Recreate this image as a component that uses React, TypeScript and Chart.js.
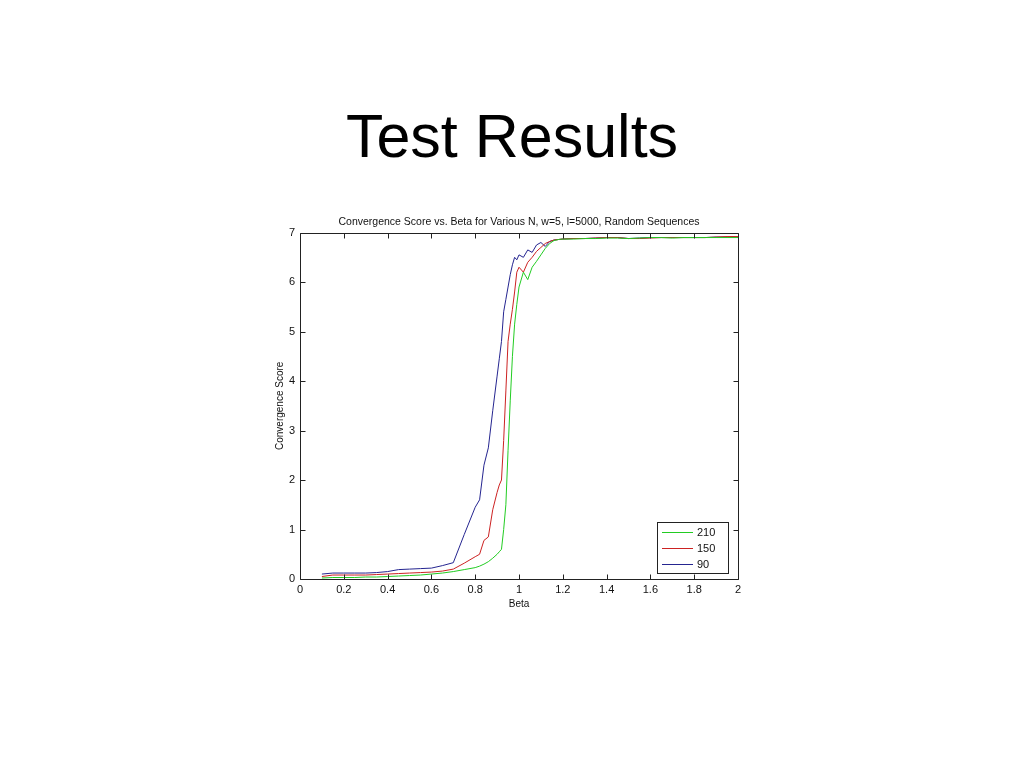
import React, { useEffect, useRef } from "react";
import { Chart, registerables } from "chart.js";

Chart.register(...registerables);

const pageTitle = "Test Results";
const chartTitle = "Convergence Score vs. Beta for Various N, w=5, l=5000, Random Sequences";
const xAxisTitle = "Beta";
const yAxisTitle = "Convergence Score";

const betas = [
  0.1, 0.15, 0.2, 0.25, 0.3, 0.35, 0.4, 0.45, 0.5, 0.55, 0.6, 0.65, 0.7, 0.75, 0.8,
  0.82, 0.84, 0.86, 0.88, 0.9,
  0.91, 0.92, 0.93, 0.94, 0.95, 0.96, 0.97, 0.98, 0.99, 1.0,
  1.02, 1.04, 1.06, 1.08, 1.1, 1.12, 1.14, 1.16, 1.18, 1.2,
  1.25, 1.3, 1.35, 1.4, 1.45, 1.5, 1.55, 1.6, 1.65, 1.7, 1.75, 1.8, 1.85, 1.9, 1.95, 2.0,
];

const n210 = [
  0.02, 0.03, 0.03, 0.03, 0.04, 0.04, 0.05, 0.06, 0.07, 0.08, 0.1, 0.12, 0.15, 0.19, 0.23,
  0.26, 0.3, 0.35, 0.42, 0.5,
  0.55, 0.6, 1.0, 1.5, 2.6, 3.6, 4.5, 5.15, 5.55, 5.9,
  6.2, 6.05, 6.3, 6.42, 6.55, 6.68, 6.78, 6.84, 6.86, 6.87,
  6.87, 6.88, 6.88, 6.89, 6.89, 6.88, 6.89, 6.9, 6.9, 6.89, 6.9, 6.9, 6.9, 6.9, 6.9, 6.9,
];

const n150 = [
  0.05, 0.08, 0.08, 0.08, 0.08, 0.09, 0.1, 0.11, 0.12, 0.13, 0.14, 0.16, 0.2, 0.32, 0.45,
  0.5, 0.78, 0.85, 1.4, 1.75,
  1.9, 2.0, 2.8, 3.8, 4.8, 5.15, 5.45, 5.8, 6.2, 6.3,
  6.2, 6.4, 6.5, 6.62, 6.7, 6.78, 6.82, 6.85, 6.86, 6.87,
  6.88, 6.88, 6.89, 6.9, 6.9, 6.88, 6.88, 6.89, 6.9, 6.9, 6.9, 6.9, 6.9, 6.91, 6.92, 6.92,
];

const n90 = [
  0.1, 0.12, 0.12, 0.12, 0.12, 0.13, 0.15, 0.19, 0.2, 0.21, 0.22, 0.27, 0.33, 0.9, 1.45,
  1.6, 2.3, 2.65, 3.4, 4.1,
  4.45, 4.8, 5.4, 5.65, 5.9, 6.15, 6.35, 6.5, 6.45, 6.55,
  6.5, 6.65, 6.6, 6.75, 6.8, 6.72, 6.82, 6.85, 6.86, 6.87,
  6.88, 6.88, 6.89, 6.9, 6.9, 6.88, 6.89, 6.9, 6.9, 6.9, 6.9, 6.9, 6.9, 6.91, 6.91, 6.91,
];

const seriesLabels = ["210", "150", "90"];
const seriesColors = ["#22cc22", "#cc2222", "#252590"];

const FONT = '"Liberation Sans", Arial, sans-serif';

const axesBoxPlugin = {
  id: "axesBox",
  afterDatasetsDraw(chart: any) {
    const { ctx, chartArea } = chart;
    const { left, right, top, bottom } = chartArea;
    const xs = chart.scales.x;
    const ys = chart.scales.y;
    ctx.save();
    ctx.strokeStyle = "#222";
    ctx.lineWidth = 1;
    ctx.beginPath();
    const L = Math.round(left) + 0.5;
    const R = Math.round(right) + 0.5;
    const T = Math.round(top) + 0.5;
    const B = Math.round(bottom) + 0.5;
    ctx.rect(L, T, R - L, B - T);
    xs.ticks.forEach((t: any) => {
      const px = Math.round(xs.getPixelForValue(t.value)) + 0.5;
      ctx.moveTo(px, B);
      ctx.lineTo(px, B - 5);
      ctx.moveTo(px, T);
      ctx.lineTo(px, T + 5);
    });
    ys.ticks.forEach((t: any) => {
      const py = Math.round(ys.getPixelForValue(t.value)) + 0.5;
      ctx.moveTo(L, py);
      ctx.lineTo(L + 5, py);
      ctx.moveTo(R, py);
      ctx.lineTo(R - 5, py);
    });
    ctx.stroke();
    ctx.restore();
  },
};

const boxLegendPlugin = {
  id: "boxLegend",
  afterDraw(chart: any) {
    const { ctx, chartArea } = chart;
    const w = 71;
    const h = 51;
    const x0 = Math.round(chartArea.right) - 10 - w;
    const y0 = Math.round(chartArea.bottom) - 6 - h;
    ctx.save();
    ctx.fillStyle = "#fff";
    ctx.fillRect(x0, y0, w, h);
    ctx.strokeStyle = "#222";
    ctx.lineWidth = 1;
    ctx.strokeRect(x0 + 0.5, y0 + 0.5, w, h);
    chart.data.datasets.forEach((ds: any, i: number) => {
      const y = y0 + 10 + i * 16;
      ctx.save();
      ctx.strokeStyle = seriesColors[i];
      ctx.lineWidth = 1;
      ctx.beginPath();
      ctx.moveTo(x0 + 5, y + 0.5);
      ctx.lineTo(x0 + 36, y + 0.5);
      ctx.stroke();
      ctx.restore();
      ctx.fillStyle = "#111";
      ctx.font = `11px ${FONT}`;
      ctx.textBaseline = "middle";
      ctx.textAlign = "left";
      ctx.fillText(ds.label, x0 + 40, y + 1);
    });
    ctx.restore();
  },
};

export default function App() {
  const canvasRef = useRef<HTMLCanvasElement | null>(null);

  useEffect(() => {
    const canvas = canvasRef.current;
    if (!canvas) return;
    const series = [n210, n150, n90];
    const chart = new Chart(canvas, {
      type: "line",
      data: {
        datasets: series.map((vals, i) => ({
          label: seriesLabels[i],
          data: betas.map((b, j) => ({ x: b, y: vals[j] })),
          borderColor: seriesColors[i],
          backgroundColor: seriesColors[i],
          borderWidth: 1,
          pointRadius: 0,
          tension: 0,
          fill: false,
        })),
      },
      options: {
        responsive: false,
        animation: false,
        devicePixelRatio: 1,
        layout: { padding: { left: 270, right: 286, top: 214, bottom: 154 } },
        plugins: {
          legend: { display: false },
          tooltip: { enabled: false },
          title: {
            display: true,
            text: chartTitle,
            fullSize: false,
            color: "#111",
            font: { family: FONT, size: 10.5, weight: "normal" },
            padding: { top: 2, bottom: 4 },
          },
        },
        scales: {
          x: {
            type: "linear",
            min: 0,
            max: 2,
            grid: { display: false, drawTicks: false },
            border: { display: false },
            ticks: {
              stepSize: 0.2,
              color: "#111",
              padding: 4,
              maxRotation: 0,
              font: { family: FONT, size: 11 },
              callback: (v: any) => String(Number(Number(v).toFixed(1))),
            },
            title: {
              display: true,
              text: xAxisTitle,
              color: "#111",
              font: { family: FONT, size: 10 },
              padding: { top: 4, bottom: 4 },
            },
            afterFit(scale: any) {
              scale.height = 35;
            },
          },
          y: {
            type: "linear",
            min: 0,
            max: 7,
            grid: { display: false, drawTicks: false },
            border: { display: false },
            ticks: {
              stepSize: 1,
              color: "#111",
              padding: 5,
              font: { family: FONT, size: 11 },
            },
            title: {
              display: true,
              text: yAxisTitle,
              color: "#111",
              font: { family: FONT, size: 10 },
              padding: { top: 4, bottom: 4 },
            },
            afterFit(scale: any) {
              scale.width = 30;
            },
          },
        },
      },
      plugins: [axesBoxPlugin, boxLegendPlugin],
    } as any);
    return () => chart.destroy();
  }, []);

  return (
    <div
      style={{
        position: "absolute",
        left: 0,
        top: 0,
        width: 1024,
        height: 768,
        background: "#fff",
        overflow: "hidden",
      }}
    >
      <div
        style={{
          position: "absolute",
          left: 0,
          top: 106,
          width: 1024,
          textAlign: "center",
          fontFamily: FONT,
          fontSize: 61,
          lineHeight: "60px",
          color: "#000",
        }}
      >
        {pageTitle}
      </div>
      <canvas
        ref={canvasRef}
        width={1024}
        height={768}
        style={{ position: "absolute", left: 0, top: 0, width: 1024, height: 768 }}
      />
    </div>
  );
}
